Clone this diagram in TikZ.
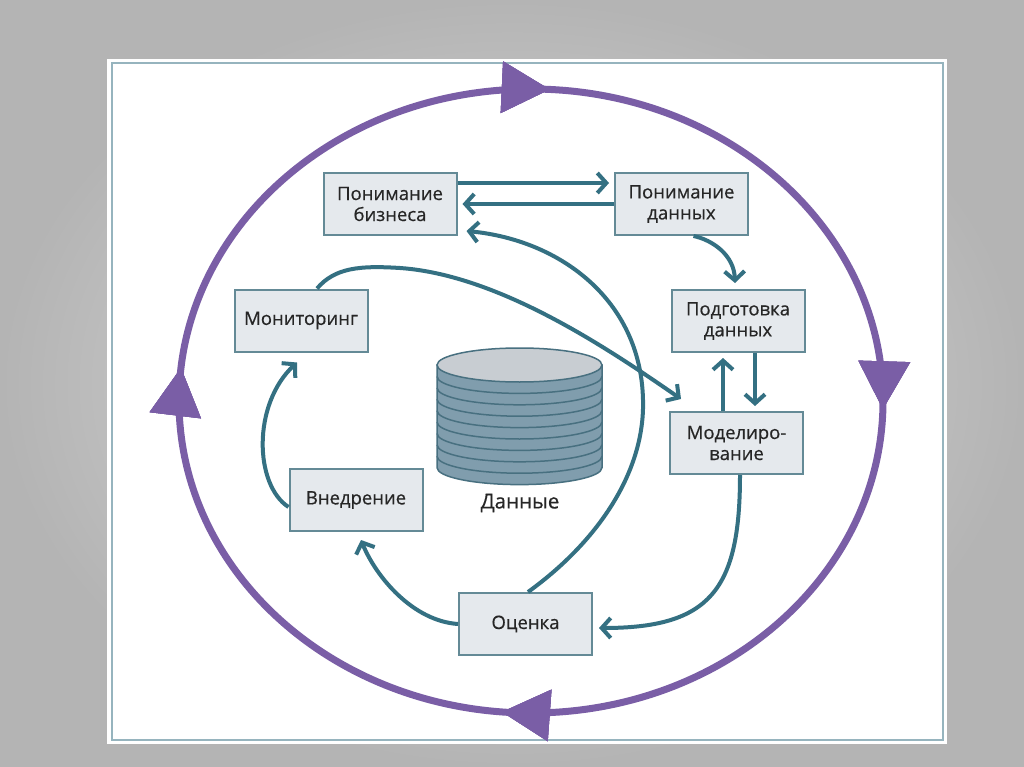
\documentclass[tikz,border=0pt]{standalone}
\usepackage{fontspec}
\setmainfont{Open Sans}
\newfontfamily\stagefont{Open Sans}[FakeBold=0.5]
\usetikzlibrary{arrows.meta,calc,decorations.markings}
\definecolor{bgin}{RGB}{222,222,222}
\definecolor{bgout}{RGB}{180,180,180}
\definecolor{panelline}{RGB}{150,180,190}
\definecolor{ringviolet}{RGB}{122,94,166}
\definecolor{flow}{RGB}{52,112,130}
\definecolor{boxfill}{RGB}{229,233,237}
\definecolor{boxline}{RGB}{100,138,150}
\definecolor{txt}{RGB}{38,38,38}
\definecolor{drumtop}{RGB}{200,205,210}
\definecolor{drumside}{RGB}{128,157,173}
\definecolor{drumline}{RGB}{72,112,128}
\tikzset{
  stage/.style={draw=boxline, line width=2pt, fill=boxfill, text=txt,
    minimum width=133pt, minimum height=62pt, inner sep=0pt, align=center,
    font=\stagefont\fontsize{18.5}{21}\selectfont},
  flowarrow/.style={draw=flow, line width=4pt, shorten >=5pt,
    -{Straight Barb[length=9pt,width=20pt]}},
  ringtip/.style={decoration={markings,
    mark=at position #1 with {\arrow{Triangle[length=48pt,width=50pt]}}},
    postaction={decorate}}
}
\begin{document}
\begin{tikzpicture}[x=1pt,y=-1pt]
  \useasboundingbox (0,0) rectangle (1024,767);
  % background and panel
  \shade[inner color=bgin, outer color=bgout] (0,0) rectangle (1024,767);
  \fill[white] (107,59) rectangle (947,744);
  \draw[panelline, line width=1.5pt] (112,63) rectangle (943,740);
  % outer cycle
  \draw[ringviolet, line width=7pt, ringtip=0.004, ringtip=0.264,
    ringtip=0.516, ringtip=0.759] (531,401) ellipse [x radius=352, y radius=312];
  % data drum
  \filldraw[fill=drumside, draw=drumline, line width=1.5pt] (437,365) -- (437,467.6)
    arc[start angle=180, end angle=0, x radius=82.5, y radius=17] -- (602,365) -- cycle;
  \foreach \k in {1,...,8}
    \draw[drumline, line width=1.5pt] (437,{365+11.4*\k})
      arc[start angle=180, end angle=0, x radius=82.5, y radius=17];
  \filldraw[fill=drumtop, draw=drumline, line width=1.5pt] (519.5,365) ellipse [x radius=82.5, y radius=17];
  \node[text=txt, font=\stagefont\fontsize{20.5}{24}\selectfont] (datalabel) at (520,503) {Данные};
  % stages
  \draw
    (390,204) node[stage] (biz) {Понимание\\бизнеса}
    (681.5,204) node[stage] (dat) {Понимание\\данных}
    (738,321) node[stage] (prep) {Подготовка\\данных}
    (736.5,443) node[stage] (model) {Моделиро-\\вание}
    (525.5,624) node[stage] (eval) {Оценка}
    (356,500) node[stage] (impl) {Внедрение}
    (301,320.5) node[stage] (mon) {Мониторинг};
  \begin{scope}[flowarrow]
    \draw ($(biz.east)+(0,-21)$) -- ($(dat.west)+(0,-21)$);
    \draw (dat.west) -- (biz.east);
    \draw[shorten >=0pt] ($(dat.south)+(12,0)$) .. controls ($(dat.south)+(31,4)$)
      and ($(prep.north)+(-4,-34)$) .. ($(prep.north)+(-3,-6)$);
    \draw ($(prep.south)+(17,0)$) -- ($(model.north)+(18.5,0)$);
    \draw ($(model.north)+(-13.5,0)$) -- ($(prep.south)+(-15,0)$);
    \draw[shorten >=0pt] ($(model.south)+(3.5,0)$) .. controls ($(model.south)+(3.5,115)$)
      and ($(eval.east)+(117,4)$) .. ($(eval.east)+(6,4)$);
    \draw[shorten >=0pt] (eval.west) .. controls ($(eval.west)+(-45,-3)$)
      and ($(impl.south)+(20,45)$) .. ($(impl.south)+(5,8)$);
    \draw[shorten >=0pt] ($(impl.west)+(0,7)$) .. controls ($(impl.west)+(-34,-15)$)
      and ($(mon.south)+(-49,52)$) .. ($(mon.south)+(-4,10)$);
    \draw[shorten >=0pt] ($(mon.north)+(16,0)$) .. controls ($(mon.north)+(34,-21)$)
      and ($(mon.north)+(59,-23)$) .. (400,268) .. controls (500,275) and (610,350)
      .. ($(model.north west)+(12,-12)$);
    \draw[shorten >=0pt] ($(eval.north)+(2.5,0)$) .. controls (600,540) and (645,470)
      .. (643,400) .. controls (641,300) and (560,240) .. ($(biz.south east)+(9,-5)$);
  \end{scope}
\end{tikzpicture}
\end{document}
